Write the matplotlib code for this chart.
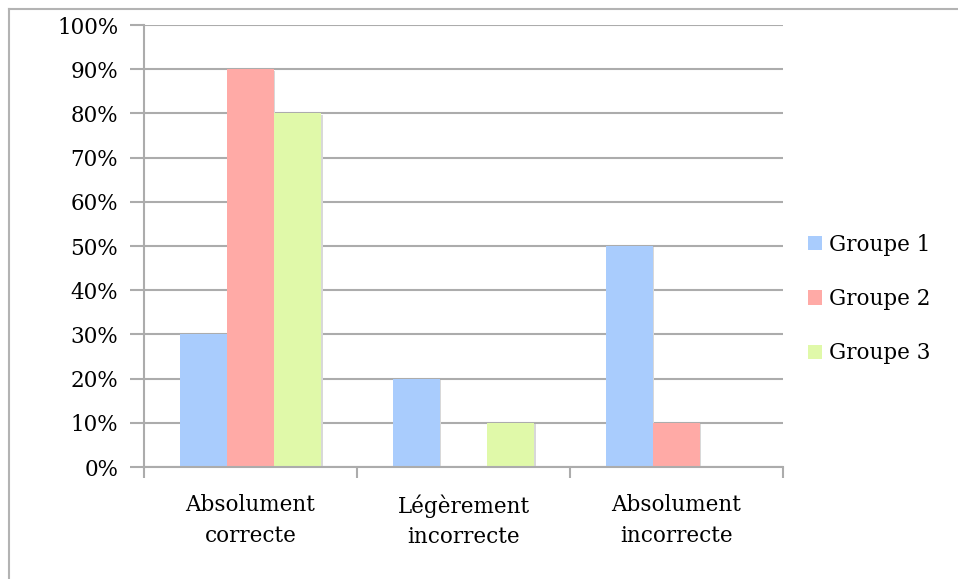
import matplotlib
matplotlib.use("Agg")
import matplotlib.pyplot as plt
from matplotlib.lines import Line2D
from matplotlib.ticker import FuncFormatter, MultipleLocator
import numpy as np

categories = ["Absolument\ncorrecte", "Légèrement\nincorrecte", "Absolument\nincorrecte"]
series_names = ["Groupe 1", "Groupe 2", "Groupe 3"]
groupe1 = [0.30, 0.20, 0.50]
groupe2 = [0.90, 0.00, 0.10]
groupe3 = [0.80, 0.10, 0.00]
colors = ["#a9ccfd", "#ffaaa6", "#e0f9a9"]

plt.rcParams['font.family'] = ['DejaVu Serif']
FS = 15.5

fig = plt.figure(figsize=(9.58, 5.79), dpi=100)
ax = fig.add_axes([0.1503, 0.1934, 0.6670, 0.7634])

x = np.arange(len(categories))
w = 0.222
series = [groupe1, groupe2, groupe3]
handles = []
for i, (vals, name, c) in enumerate(zip(series, series_names, colors)):
    pos = x + (i - 1) * w
    # subtle shadow
    ax.bar(pos + 0.006, vals, width=w, bottom=-0.003, color="#d8d8d8",
           zorder=2, linewidth=0)
    b = ax.bar(pos, vals, width=w, color=c, zorder=3, linewidth=0, label=name)
    handles.append(b)

ax.set_xlim(-0.5, 2.5)
ax.set_ylim(0, 1.0)
ax.yaxis.set_major_locator(MultipleLocator(0.1))
ax.yaxis.set_major_formatter(FuncFormatter(lambda v, p: f"{int(round(v*100))}%"))
ax.grid(axis='y', color='#acacac', linewidth=1.5, zorder=1)
ax.set_axisbelow(True)

for s in ['top', 'right']:
    ax.spines[s].set_visible(False)
for s in ['left', 'bottom']:
    ax.spines[s].set_color('#acacac')
    ax.spines[s].set_linewidth(1.5)
ax.spines['bottom'].set_zorder(4)

ax.set_xticks(x)
ax.set_xticklabels(categories, fontsize=FS, linespacing=1.5)
ax.tick_params(axis='x', length=0, pad=19.5)
ax.set_xticks([-0.5, 0.5, 1.5, 2.5], minor=True)
ax.tick_params(axis='x', which='minor', length=8, width=1.5, color='#acacac', direction='out')
ax.tick_params(axis='y', length=10, width=1.5, color='#acacac', labelsize=FS, pad=8.5)

leg = ax.legend(handles=handles, labels=series_names, loc='center left',
                bbox_to_anchor=(1.009, 0.38), frameon=False, fontsize=FS,
                handlelength=0.65, handleheight=0.65, handletextpad=0.33,
                labelspacing=1.5, borderpad=0.4)

# figure border (left and top)
fig.add_artist(Line2D([9/958, 9/958], [0, 1 - 9/579], transform=fig.transFigure,
                      color='#b3b3b3', linewidth=1.5))
fig.add_artist(Line2D([9/958, 1], [1 - 9/579, 1 - 9/579], transform=fig.transFigure,
                      color='#b3b3b3', linewidth=1.5))

fig.savefig("out.png", dpi=100)
